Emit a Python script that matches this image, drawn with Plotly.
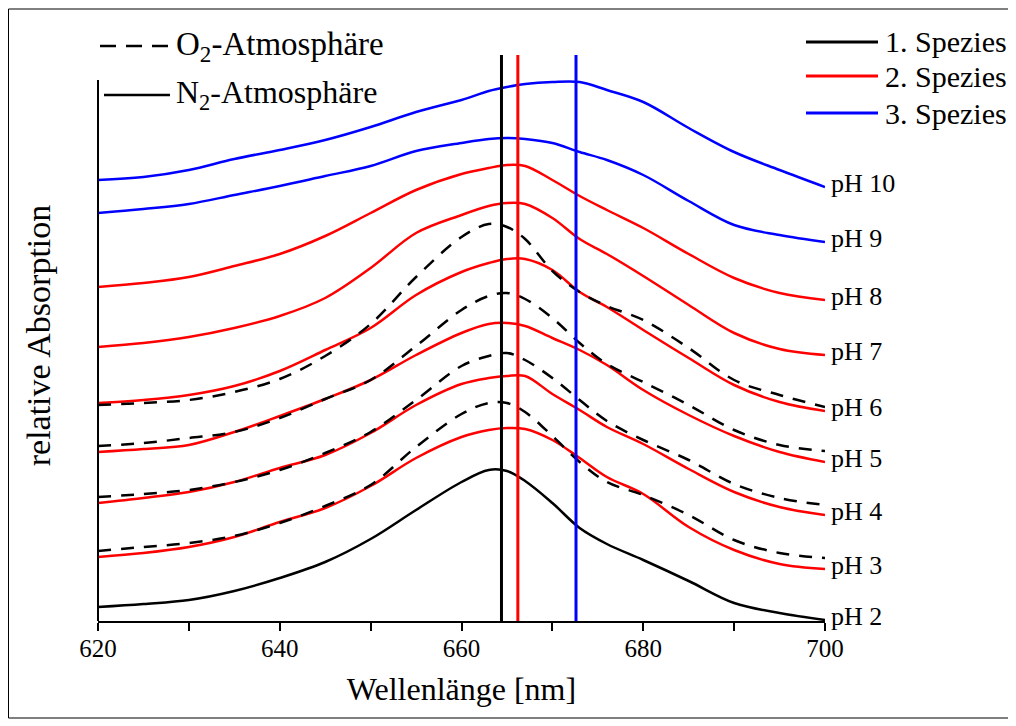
import plotly.graph_objects as go

# ---------------- data ----------------
wavelength = [620, 625, 630, 635, 640, 645, 650, 655, 660, 663, 665, 667,
              670, 673, 676, 680, 685, 690, 695, 700]

# relative absorption (curves already stacked with vertical offsets)
n2_ph2 = [0.14, 0.17, 0.21, 0.30, 0.43, 0.59, 0.82, 1.11, 1.39, 1.51, 1.50, 1.40,
          1.18, 0.93, 0.77, 0.61, 0.40, 0.18, 0.08, 0.01]
n2_ph3 = [0.64, 0.68, 0.74, 0.84, 0.99, 1.13, 1.35, 1.63, 1.84, 1.91, 1.93, 1.92,
          1.81, 1.63, 1.44, 1.27, 0.94, 0.71, 0.57, 0.52]
n2_ph4 = [1.18, 1.23, 1.29, 1.39, 1.53, 1.66, 1.88, 2.16, 2.37, 2.43, 2.45, 2.45,
          2.27, 2.11, 1.94, 1.77, 1.52, 1.29, 1.14, 1.06]
n2_ph5 = [1.69, 1.72, 1.76, 1.89, 2.05, 2.22, 2.41, 2.66, 2.88, 2.97, 2.98, 2.95,
          2.83, 2.71, 2.56, 2.31, 2.06, 1.85, 1.69, 1.59]
n2_ph6 = [2.18, 2.21, 2.26, 2.35, 2.50, 2.71, 2.93, 3.26, 3.49, 3.58, 3.62, 3.62,
          3.51, 3.29, 3.14, 2.91, 2.63, 2.36, 2.19, 2.10]
n2_ph7 = [2.74, 2.78, 2.84, 2.93, 3.05, 3.23, 3.53, 3.88, 4.06, 4.15, 4.18, 4.17,
          4.03, 3.82, 3.67, 3.45, 3.16, 2.88, 2.72, 2.66]
n2_ph8 = [3.34, 3.38, 3.44, 3.55, 3.67, 3.85, 4.08, 4.31, 4.47, 4.53, 4.56, 4.55,
          4.41, 4.25, 4.11, 3.93, 3.67, 3.43, 3.28, 3.21]
n2_ph9 = [4.08, 4.12, 4.17, 4.26, 4.35, 4.45, 4.55, 4.70, 4.78, 4.82, 4.83, 4.82,
          4.78, 4.69, 4.61, 4.46, 4.20, 3.96, 3.86, 3.79]
n2_ph10 = [4.41, 4.44, 4.51, 4.62, 4.71, 4.81, 4.94, 5.09, 5.21, 5.30, 5.34, 5.37,
           5.39, 5.39, 5.31, 5.19, 4.93, 4.69, 4.51, 4.34]

o2_ph3 = [0.70, 0.74, 0.78, 0.85, 0.98, 1.15, 1.36, 1.74, 2.07, 2.18, 2.18, 2.09,
          1.85, 1.59, 1.39, 1.26, 1.06, 0.81, 0.68, 0.63]
o2_ph4 = [1.24, 1.27, 1.31, 1.39, 1.51, 1.68, 1.89, 2.21, 2.55, 2.65, 2.68, 2.61,
          2.43, 2.21, 2.00, 1.81, 1.61, 1.37, 1.23, 1.16]
o2_ph5 = [1.75, 1.78, 1.83, 1.89, 2.03, 2.22, 2.41, 2.75, 3.11, 3.25, 3.28, 3.22,
          3.03, 2.78, 2.57, 2.39, 2.16, 1.91, 1.76, 1.70]
o2_ph6 = [2.16, 2.18, 2.21, 2.29, 2.42, 2.65, 2.97, 3.44, 3.84, 3.97, 3.94, 3.82,
          3.50, 3.29, 3.15, 3.01, 2.73, 2.41, 2.26, 2.14]

ph_labels = ["pH 2", "pH 3", "pH 4", "pH 5", "pH 6", "pH 7", "pH 8", "pH 9", "pH 10"]
n2_series = [n2_ph2, n2_ph3, n2_ph4, n2_ph5, n2_ph6, n2_ph7, n2_ph8, n2_ph9, n2_ph10]
n2_species = [1, 2, 2, 2, 2, 2, 2, 3, 3]          # species index of each pH curve
o2_series = [o2_ph3, o2_ph4, o2_ph5, o2_ph6]

species_nm = [664.4, 666.2, 672.6]
species_names = ["1. Spezies", "2. Spezies", "3. Spezies"]
line_top = 5.66

# ---------------- style ----------------
species_colors = {1: "#000000", 2: "#FF0000", 3: "#0000FF"}
FONT = "Liberation Serif"
OFF = 8                      # page offset of the plot div inside the browser window
W, H = 1016 - OFF, 726 - OFF
ML, MR, MT, MB = 98 - OFF, 191, 50 - OFF, 105
PW, PH = W - ML - MR, H - MT - MB


def pxx(p):
    return (p - OFF - ML) / PW


def pxy(p):
    return (H - MB - (p - OFF)) / PH


fig = go.Figure()

for vals, sp, lab in zip(n2_series, n2_species, ph_labels):
    fig.add_trace(go.Scatter(x=wavelength, y=vals, mode="lines", name=lab + " (N2)",
                             line=dict(color=species_colors[sp], width=2.5, shape="spline",
                                       smoothing=1.0),
                             showlegend=False))

for vals, lab in zip(o2_series, ph_labels[1:5]):
    fig.add_trace(go.Scatter(x=wavelength, y=vals, mode="lines", name=lab + " (O2)",
                             line=dict(color="#000000", width=2.5, dash="13px,10px",
                                       shape="spline", smoothing=1.0),
                             showlegend=False))

for i, (nm, nmname) in enumerate(zip(species_nm, species_names)):
    fig.add_trace(go.Scatter(x=[nm, nm], y=[0, line_top], mode="lines", name=nmname,
                             line=dict(color=species_colors[i + 1], width=3),
                             showlegend=False))

# pH labels at the end of each curve
for vals, lab in zip(n2_series, ph_labels):
    fig.add_annotation(x=wavelength[-1], y=vals[-1], text=lab, showarrow=False,
                       xanchor="left", yanchor="middle", xshift=4, yshift=4,
                       font=dict(family=FONT, size=26, color="black"))

shapes = []
# y axis line
shapes.append(dict(type="line", xref="paper", yref="paper", x0=0, x1=0,
                   y0=0, y1=pxy(80), line=dict(color="black", width=2)))
# figure frame
shapes.append(dict(type="rect", xref="paper", yref="paper",
                   x0=pxx(8.5), x1=pxx(1011), y0=pxy(718), y1=pxy(9),
                   line=dict(color="black", width=1)))

# legend top-left
shapes.append(dict(type="line", xref="paper", yref="paper", x0=pxx(100), x1=pxx(172),
                   y0=pxy(46), y1=pxy(46),
                   line=dict(color="black", width=2.5, dash="16px,10px")))
shapes.append(dict(type="line", xref="paper", yref="paper", x0=pxx(104), x1=pxx(170),
                   y0=pxy(95), y1=pxy(95), line=dict(color="black", width=2.5)))
fig.add_annotation(xref="paper", yref="paper", x=pxx(174), y=pxy(46),
                   text="O<sub>2</sub>-Atmosphäre", showarrow=False,
                   xanchor="left", yanchor="middle", font=dict(family=FONT, size=33))
fig.add_annotation(xref="paper", yref="paper", x=pxx(174), y=pxy(95),
                   text="N<sub>2</sub>-Atmosphäre", showarrow=False,
                   xanchor="left", yanchor="middle", font=dict(family=FONT, size=32))

# legend top-right
for i, (nmname, yy) in enumerate(zip(species_names, [42, 76, 113])):
    shapes.append(dict(type="line", xref="paper", yref="paper", x0=pxx(806), x1=pxx(878),
                       y0=pxy(yy), y1=pxy(yy),
                       line=dict(color=species_colors[i + 1], width=3)))
    fig.add_annotation(xref="paper", yref="paper", x=pxx(883), y=pxy(yy), text=nmname,
                       showarrow=False, xanchor="left", yanchor="middle",
                       font=dict(family=FONT, size=30))

fig.update_layout(
    width=W, height=H,
    margin=dict(l=ML, r=MR, t=MT, b=MB, autoexpand=False),
    paper_bgcolor="white", plot_bgcolor="white",
    showlegend=False,
    shapes=shapes,
    font=dict(family=FONT, color="black"),
    xaxis=dict(range=[620, 700], showline=True, linecolor="black", linewidth=2,
               ticks="outside", ticklen=8, tickwidth=2, tickcolor="black",
               tick0=620, dtick=20,
               minor=dict(dtick=10, ticks="outside", ticklen=8, tickwidth=2,
                          tickcolor="black", showgrid=False),
               tickfont=dict(family=FONT, size=25, color="black"),
               ticklabelstandoff=-4,
               showgrid=False, zeroline=False, automargin=False,
               title=dict(text="Wellenlänge [nm]", font=dict(family=FONT, size=32),
                          standoff=17)),
    yaxis=dict(range=[0, PH / 100], showline=False, showticklabels=False, ticks="",
               showgrid=False, zeroline=False, automargin=False,
               title=dict(text="relative Absorption", font=dict(family=FONT, size=34),
                          standoff=36)),
)

fig.write_html("out.html")
